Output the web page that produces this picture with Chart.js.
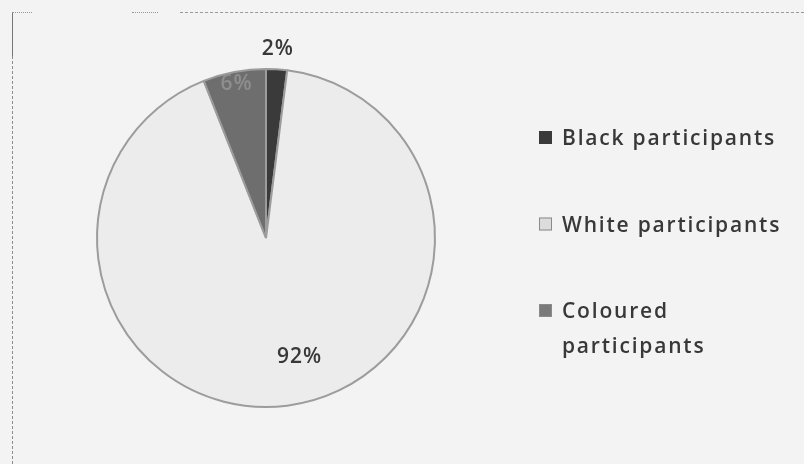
<!DOCTYPE html>
<html>
<head>
<meta charset="utf-8">
<script src="https://cdn.jsdelivr.net/npm/chart.js@4.4.1/dist/chart.umd.min.js"></script>
<style>
  html, body { margin: 0; padding: 0; background: #f3f3f3; }
  #wrap { position: relative; width: 804px; height: 464px; overflow: hidden; background: #f3f3f3; }
  canvas { position: absolute; left: 0; top: 0; }
  .bl { position: absolute; border-color: #8c8c8c; }
</style>
</head>
<body>
<div id="wrap">
  <canvas id="c" width="804" height="464"></canvas>
  <div class="bl" style="left:12px;top:12px;width:0;height:44px;border-left:1px solid #777;"></div>
  <div class="bl" style="left:12px;top:56px;width:0;height:408px;border-left:1px dashed #8c8c8c;"></div>
  <div class="bl" style="left:12px;top:12px;width:20px;height:0;border-top:1px dotted #999;"></div>
  <div class="bl" style="left:132px;top:12px;width:26px;height:0;border-top:1px dotted #999;"></div>
  <div class="bl" style="left:180px;top:12px;width:624px;height:0;border-top:1px dashed #999;"></div>
</div>
<script>
// ---- data ----
const categories = ['Black participants', 'White participants', ['Coloured', 'participants']];
const percentValues = [2, 92, 6];
const percentLabels = ['2%', '92%', '6%'];

// ---- styling / placement ----
const sliceColors = ['#3a3a3a', '#ececec', '#6e6e6e'];
const markerColors = ['#3a3a3a', '#dcdcdc', '#7a7a7a'];
const labelColors = ['#383838', '#383838', '#8e8e8e'];
const labelRadius = [1.12, 0.73, 0.93];
const labelAngleShift = [0, -8.6, 0]; // degrees
const FONT = '"Open Sans", "DejaVu Sans", sans-serif';

const pctLabelPlugin = {
  id: 'pctLabels',
  afterDatasetsDraw(chart) {
    const ctx = chart.ctx;
    const meta = chart.getDatasetMeta(0);
    ctx.save();
    ctx.font = '600 21px ' + FONT;
    ctx.letterSpacing = '1px';
    ctx.textAlign = 'center';
    ctx.textBaseline = 'middle';
    meta.data.forEach((arc, i) => {
      const p = arc.getProps(['x', 'y', 'startAngle', 'endAngle', 'outerRadius'], true);
      const mid = (p.startAngle + p.endAngle) / 2 + labelAngleShift[i] * Math.PI / 180;
      const r = p.outerRadius * labelRadius[i];
      ctx.fillStyle = labelColors[i];
      ctx.fillText(percentLabels[i], p.x + Math.cos(mid) * r, p.y + Math.sin(mid) * r);
    });
    ctx.restore();
  }
};

const legendPlugin = {
  id: 'sideLegend',
  afterDraw(chart) {
    const ctx = chart.ctx;
    const x0 = 539, textX = 562;
    let baseline = 145;
    const itemGap = 86.5, lineGap = 35;
    ctx.save();
    ctx.font = '600 21px ' + FONT;
    ctx.letterSpacing = '1.8px';
    ctx.textAlign = 'left';
    ctx.textBaseline = 'alphabetic';
    categories.forEach((lab, i) => {
      const lines = Array.isArray(lab) ? lab : [lab];
      ctx.fillStyle = markerColors[i];
      ctx.fillRect(x0, baseline - 14, 13, 13);
      ctx.strokeStyle = '#8a8a8a';
      ctx.lineWidth = 1;
      if (i !== 0) ctx.strokeRect(x0 + 0.5, baseline - 13.5, 12, 12);
      ctx.fillStyle = '#383838';
      lines.forEach((ln, k) => ctx.fillText(ln, textX, baseline + k * lineGap));
      baseline += itemGap;
    });
    ctx.restore();
  }
};

new Chart(document.getElementById('c'), {
  type: 'pie',
  data: {
    labels: categories,
    datasets: [{
      data: percentValues,
      backgroundColor: sliceColors,
      borderColor: '#9c9c9c',
      borderWidth: 2
    }]
  },
  options: {
    responsive: false,
    animation: false,
    layout: { padding: { left: 96, right: 368, top: 68, bottom: 56 } },
    plugins: { legend: { display: false }, tooltip: { enabled: false } }
  },
  plugins: [pctLabelPlugin, legendPlugin]
});
</script>
</body>
</html>
